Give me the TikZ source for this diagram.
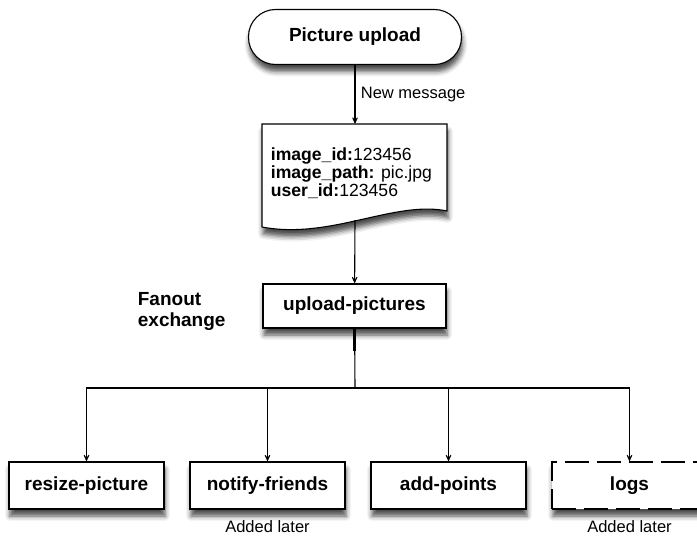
\documentclass[tikz,border=0pt]{standalone}
\usepackage{fontspec}
\setmainfont{Liberation Sans}
\usetikzlibrary{arrows.meta, shadows.blur}

\begin{document}
\begin{tikzpicture}[x=1pt, y=-1pt, line width=1.1pt,
  >={Stealth[length=11pt, width=10pt, inset=7.5pt]},
  shadowed/.style={blur shadow={shadow xshift=1pt, shadow yshift=-7pt, shadow blur radius=5pt, shadow opacity=70}},
  box/.style={draw, fill=white, shadowed, minimum width=155pt, minimum height=47pt, font=\fontsize{19}{21}\selectfont\bfseries},
  note/.style={font=\fontsize{16.5}{19}\selectfont}]

\useasboundingbox (0,0) rectangle (697,538);

\node[box, rounded corners=27pt, minimum width=213pt, minimum height=55pt] (upload) at (355,37) {Picture upload};

% the message, a document shape with a wavy bottom
\draw[fill=white, shadowed] (262,124) -- (447,124) -- (447,211) .. controls (395,200) and (330,240) .. (262,227) -- cycle;
\coordinate (msgtop) at (355,124);
\coordinate (msgbot) at (355,220);
\node[anchor=west, align=left, font=\fontsize{17.6}{18.3}\selectfont] (msg) at (267,173)
  {\textbf{image\_id:}123456\\ \textbf{image\_path:} pic.jpg\\ \textbf{user\_id:}123456};

\draw[->] (upload) -- (msgtop) node[note, midway, right=2pt] {New message};

\node[box, minimum width=183pt, minimum height=44pt] (exchange) at (354.5,306) {upload-pictures};
\draw[->] (msgbot) -- (exchange);
\node[anchor=west, align=left, font=\fontsize{19}{21}\selectfont\bfseries] (fanout) at (134,311) {Fanout\\exchange};

\foreach \name/\x/\txt in {resize/86.5/resize-picture, notify/267.5/notify-friends, points/448.5/add-points}
  \node[box] (\name) at (\x,485.5) {\txt};
\node[box, dash pattern=on 24pt off 8pt] (logs) at (629.5,485.5) {logs};

\node[note] (later1) at (267.5,527) {Added later};
\node[note] (later2) at (629.5,527) {Added later};

% fanout lines
\coordinate (split) at (355,388);
\draw[line width=3pt] (exchange.south) -- ++(0,22);
\draw (exchange) -- (split);
\foreach \name in {resize, notify, points, logs}
  \draw[->] (split) -| (\name);

\end{tikzpicture}
\end{document}
